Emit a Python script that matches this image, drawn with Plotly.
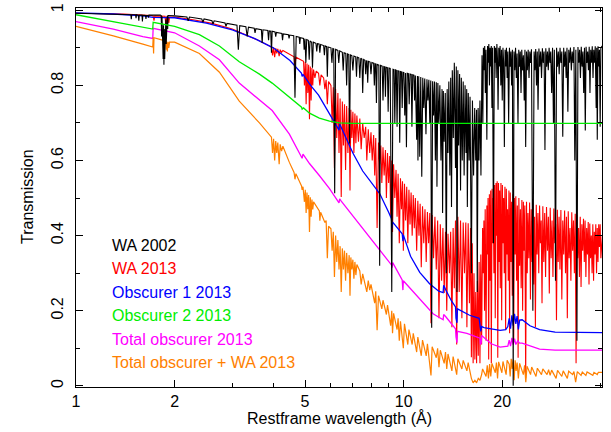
import plotly.graph_objects as go

# ---------------- data (wavelength in Angstrom, transmission) ----------------
wa2002 = [
(1.00,0.992),(1.20,0.991),(1.40,0.989),(1.47,0.988),(1.475,0.976),(1.48,0.988),
(1.52,0.988),(1.525,0.979),(1.53,0.988),(1.55,0.987),(1.555,0.972),(1.56,0.987),
(1.59,0.987),(1.595,0.970),(1.60,0.987),(1.63,0.986),(1.635,0.977),(1.64,0.986),
(1.66,0.986),(1.665,0.980),(1.67,0.987),(1.75,0.988),(1.81,0.987),
(1.82,0.986),(1.825,0.93),(1.83,0.984),(1.835,0.90),(1.84,0.975),(1.845,0.87),(1.85,0.96),
(1.855,0.855),(1.86,0.95),(1.865,0.87),(1.87,0.97),(1.875,0.89),(1.88,0.975),(1.885,0.91),
(1.89,0.98),(1.895,0.93),(1.90,0.985),(1.905,0.95),(1.91,0.986),
(2.00,0.985),(2.18,0.982),(2.20,0.972),(2.22,0.982),(2.42,0.977),(2.44,0.968),(2.46,0.977),
(2.60,0.972),(2.62,0.963),(2.64,0.972),(2.85,0.966),(2.87,0.957),(2.89,0.965),
(3.10,0.960),(3.13,0.895),(3.16,0.959),(3.30,0.956),(3.33,0.930),(3.36,0.955),
(3.50,0.952),(3.52,0.940),(3.54,0.951),(3.68,0.948),(3.70,0.913),(3.72,0.948),
(3.85,0.946),(3.87,0.920),(3.89,0.945),(3.93,0.944),(3.95,0.887),(3.97,0.944),
(4.05,0.942),(4.07,0.930),(4.09,0.941),(4.25,0.938),(4.27,0.920),(4.29,0.937),
(4.45,0.935),(4.47,0.925),(4.49,0.934),(4.62,0.932),(4.66,0.767),(4.70,0.930),
(4.80,0.928),(4.82,0.910),(4.84,0.927),(4.95,0.925),(4.97,0.895),(5.00,0.924),
(5.03,0.860),(5.06,0.922),(5.12,0.920),(5.15,0.868),(5.18,0.918),(5.24,0.915),
(5.27,0.847),(5.30,0.915),(5.40,0.912),(5.43,0.890),(5.46,0.911),(5.52,0.910),
(5.55,0.887),(5.58,0.909),(5.70,0.906),(5.73,0.880),(5.76,0.905),(5.82,0.903),
(5.85,0.823),(5.88,0.902),(6.00,0.900),(6.04,0.860),(6.08,0.898),(6.12,0.897),
(6.16,0.513),(6.20,0.896),(6.30,0.893),(6.34,0.860),(6.38,0.892),(6.50,0.888),
(6.54,0.840),(6.58,0.887),(6.66,0.885),(6.70,0.800),(6.74,0.884),(6.80,0.882),
(6.84,0.645),(6.88,0.881),(6.95,0.879),(7.00,0.840),(7.05,0.878),(7.14,0.876),
(7.18,0.823),(7.22,0.875),(7.30,0.873),(7.35,0.820),(7.40,0.872),(7.46,0.870),
(7.50,0.780),(7.55,0.869),(7.62,0.867),(7.66,0.830),(7.70,0.866),(7.73,0.865),
(7.77,0.807),(7.81,0.864),(7.90,0.862),(7.95,0.830),(8.00,0.861),(8.10,0.859),
(8.14,0.800),(8.18,0.858),(8.22,0.857),(8.26,0.753),(8.30,0.856),(8.40,0.854),
(8.45,0.320),(8.50,0.853),(8.60,0.851),(8.65,0.760),(8.70,0.850),(8.76,0.849),
(8.80,0.770),(8.84,0.848),(8.92,0.847),(8.97,0.730),(9.02,0.846),(9.10,0.845),
(9.20,0.250),(9.28,0.843),(9.35,0.842),(9.40,0.700),(9.45,0.841),(9.50,0.840),
(9.55,0.690),(9.60,0.839),(9.68,0.838),(9.73,0.647),(9.78,0.837),(9.85,0.836),
(9.90,0.740),(9.95,0.835),(10.02,0.834),(10.08,0.720),(10.14,0.833),(10.20,0.635),
(10.26,0.832),(10.34,0.831),(10.40,0.750),(10.46,0.830),(10.55,0.829),(10.60,0.690),
(10.66,0.828),(10.75,0.827),(10.80,0.760),(10.86,0.826),(10.96,0.655),(11.02,0.825),
(11.06,0.600),(11.12,0.824),(11.20,0.610),(11.28,0.822),(11.36,0.557),(11.44,0.820),
(11.52,0.740),(11.60,0.818),(11.70,0.670),(11.78,0.816),(11.86,0.760),(11.94,0.815),
(12.02,0.700),(12.10,0.813),(12.18,0.155),(12.26,0.811),(12.34,0.720),(12.42,0.810),
(12.50,0.600),(12.58,0.808),(12.64,0.530),(12.72,0.806),(12.80,0.700),(12.90,0.800),
(13.00,0.600),(13.10,0.790),(13.15,0.460),(13.22,0.785),(13.30,0.650),(13.40,0.780),
(13.50,0.300),(13.58,0.790),(13.66,0.620),(13.74,0.810),(13.84,0.560),(13.92,0.820),
(14.00,0.476),(14.08,0.840),(14.18,0.660),(14.28,0.860),(14.40,0.580),(14.48,0.850),
(14.55,0.250),(14.64,0.840),(14.72,0.640),(14.82,0.830),(14.92,0.520),(15.00,0.820),
(15.10,0.600),(15.20,0.810),(15.30,0.560),(15.40,0.800),(15.50,0.620),(15.58,0.790),
(15.65,0.476),(15.75,0.780),(15.85,0.600),(15.95,0.770),(16.10,0.300),(16.22,0.760),
(16.35,0.560),(16.48,0.740),(16.60,0.600),(16.70,0.735),(16.78,0.250),(16.88,0.740),
(16.98,0.600),(17.10,0.760),(17.22,0.560),(17.35,0.880),(17.45,0.700),(17.52,0.900),
(17.60,0.840),(17.68,0.905),(17.76,0.780),(17.84,0.895),(17.95,0.655),(18.04,0.905),
(18.12,0.860),(18.20,0.910),(18.28,0.800),(18.36,0.900),(18.44,0.850),(18.52,0.905),
(18.60,0.740),(18.68,0.900),(18.80,0.380),(18.92,0.905),(19.00,0.860),(19.08,0.900),
(19.16,0.820),(19.26,0.910),(19.34,0.870),(19.42,0.735),(19.52,0.900),(19.60,0.850),
(19.70,0.905),(19.80,0.800),(19.90,0.895),(20.00,0.760),(20.10,0.900),(20.20,0.860),
(20.30,0.636),(20.40,0.895),(20.50,0.850),(20.60,0.900),(20.70,0.820),(20.80,0.890),
(20.92,0.700),(21.04,0.900),(21.14,0.850),(21.26,0.890),(21.36,0.800),(21.48,0.895),
(21.60,0.000),(21.72,0.890),(21.84,0.840),(21.96,0.900),(22.08,0.820),(22.20,0.885),
(22.34,0.700),(22.46,0.895),(22.58,0.850),(22.70,0.890),(22.82,0.780),(22.94,0.895),
(23.06,0.840),(23.20,0.880),(23.34,0.760),(23.46,0.895),(23.58,0.636),(23.72,0.890),
(23.86,0.840),(24.00,0.895),(24.14,0.820),(24.28,0.890),(24.42,0.860),(24.56,0.896),
(24.80,0.200),(25.02,0.890),(25.16,0.840),(25.30,0.897),(25.44,0.800),(25.58,0.890),
(25.72,0.735),(25.88,0.898),(26.04,0.850),(26.20,0.890),(26.36,0.820),(26.52,0.899),
(26.68,0.860),(26.84,0.890),(27.00,0.628),(27.16,0.899),(27.32,0.850),(27.48,0.890),
(27.64,0.840),(27.80,0.900),(27.96,0.860),(28.12,0.890),(28.30,0.780),(28.48,0.900),
(28.66,0.700),(28.84,0.895),(29.08,0.280),(29.30,0.900),(29.48,0.850),(29.66,0.890),
(29.84,0.830),(30.02,0.900),(30.20,0.860),(30.40,0.890),(30.60,0.663),(30.80,0.900),
(30.98,0.850),(31.16,0.890),(31.34,0.820),(31.52,0.900),(31.72,0.730),(31.92,0.895),
(32.10,0.860),(32.30,0.901),(32.50,0.840),(32.70,0.890),(32.90,0.860),(33.10,0.902),
(33.30,0.600),(33.55,0.895),(33.80,0.120),(34.05,0.902),(34.25,0.860),(34.45,0.895),
(34.65,0.820),(34.85,0.903),(35.05,0.850),(35.25,0.890),(35.45,0.780),(35.65,0.900),
(35.85,0.680),(36.05,0.903),(36.25,0.860),(36.45,0.890),(36.65,0.840),(36.85,0.903),
(37.05,0.780),(37.25,0.895),(37.45,0.860),(37.65,0.904),(37.85,0.820),(38.05,0.895),
(38.25,0.860),(38.45,0.904),(38.70,0.740),(38.85,0.900),(39.00,0.655),(39.20,0.904),
(39.40,0.850),(39.60,0.895),(39.80,0.690),(40.00,0.900),(40.40,0.905)]

wa2013 = [
(1.00,0.992),(1.40,0.990),(1.70,0.986),(1.72,0.985),(1.73,0.972),(1.74,0.985),
(1.87,0.984),(1.88,0.960),(1.89,0.983),(1.90,0.962),(1.91,0.982),(1.92,0.966),(1.93,0.982),
(2.00,0.982),(2.30,0.974),(2.60,0.965),(3.00,0.950),(3.30,0.935),(3.60,0.920),
(3.95,0.902),(3.98,0.880),(4.01,0.901),(4.04,0.875),(4.07,0.899),(4.10,0.885),
(4.13,0.897),(4.17,0.878),(4.20,0.895),(4.24,0.888),(4.28,0.893),(4.50,0.882),
(4.63,0.876),(4.66,0.850),(4.69,0.875),(4.85,0.868),
(4.95,0.864),(4.98,0.800),(5.01,0.862),(5.04,0.750),(5.07,0.858),(5.10,0.780),
(5.13,0.855),(5.16,0.710),(5.19,0.850),(5.22,0.760),(5.25,0.846),(5.28,0.800),
(5.31,0.842),(5.36,0.820),(5.41,0.838),(5.50,0.832),(5.55,0.800),(5.60,0.828),
(5.70,0.820),(5.75,0.790),(5.80,0.815),(5.85,0.750),(5.90,0.810),(6.00,0.800),
(6.05,0.700),(6.10,0.795),(6.15,0.580),(6.20,0.790),(6.25,0.660),(6.30,0.780),
(6.35,0.620),(6.40,0.765),(6.45,0.503),(6.50,0.757),(6.55,0.640),(6.60,0.750),
(6.65,0.575),(6.70,0.745),(6.76,0.620),(6.82,0.740),(6.86,0.520),(6.90,0.735),
(6.95,0.660),(7.00,0.730),(7.05,0.620),(7.10,0.725),(7.15,0.646),(7.20,0.720),
(7.28,0.650),(7.35,0.712),(7.42,0.630),(7.50,0.700),(7.58,0.660),(7.66,0.690),
(7.72,0.600),(7.80,0.683),(7.88,0.620),(7.95,0.675),(8.02,0.600),(8.10,0.668),
(8.16,0.560),(8.22,0.660),(8.30,0.420),(8.38,0.648),(8.45,0.590),(8.52,0.640),
(8.58,0.540),(8.65,0.635),(8.72,0.560),(8.80,0.628),(8.86,0.500),(8.93,0.620),
(9.00,0.540),(9.07,0.612),(9.13,0.450),(9.20,0.600),(9.25,0.410),(9.32,0.590),
(9.40,0.500),(9.48,0.575),(9.55,0.450),(9.62,0.565),(9.70,0.380),(9.78,0.553),
(9.85,0.470),(9.92,0.545),(9.98,0.360),(10.06,0.538),(10.14,0.440),(10.22,0.530),
(10.30,0.380),(10.38,0.522),(10.46,0.430),(10.54,0.515),(10.62,0.400),(10.70,0.508),
(10.78,0.420),(10.86,0.500),(10.96,0.360),(11.05,0.493),(11.14,0.400),(11.23,0.485),
(11.32,0.316),(11.42,0.478),(11.52,0.380),(11.62,0.470),(11.72,0.330),(11.82,0.463),
(11.92,0.380),(12.02,0.460),(12.12,0.167),(12.22,0.455),(12.34,0.340),(12.46,0.450),
(12.58,0.310),(12.70,0.440),(12.82,0.180),(12.94,0.430),(13.06,0.280),(13.18,0.420),
(13.30,0.247),(13.42,0.410),(13.54,0.200),(13.66,0.405),(13.80,0.300),(13.92,0.410),
(14.04,0.156),(14.16,0.420),(14.28,0.260),(14.40,0.440),(14.52,0.110),(14.64,0.450),
(14.78,0.250),(14.92,0.440),(15.06,0.180),(15.20,0.435),(15.34,0.300),(15.48,0.435),
(15.60,0.156),(15.74,0.433),(15.88,0.220),(16.00,0.420),(16.10,0.076),(16.20,0.380),
(16.30,0.060),(16.40,0.300),(16.50,0.070),(16.60,0.250),(16.70,0.060),(16.80,0.280),
(16.90,0.080),(17.00,0.330),(17.10,0.060),(17.20,0.350),(17.30,0.110),(17.42,0.420),
(17.50,0.300),(17.58,0.440),(17.66,0.200),(17.74,0.470),(17.85,0.120),(17.95,0.480),
(18.02,0.350),(18.10,0.500),(18.18,0.070),(18.27,0.510),(18.36,0.280),(18.44,0.520),
(18.52,0.060),(18.62,0.525),(18.70,0.380),(18.78,0.500),(18.86,0.300),(18.95,0.535),
(19.04,0.180),(19.14,0.540),(19.22,0.400),(19.30,0.545),(19.38,0.075),(19.48,0.540),
(19.56,0.330),(19.64,0.520),(19.72,0.260),(19.82,0.540),(19.92,0.175),(20.02,0.535),
(20.10,0.380),(20.20,0.500),(20.28,0.300),(20.38,0.530),(20.48,0.150),(20.58,0.525),
(20.68,0.350),(20.76,0.470),(20.86,0.280),(20.96,0.520),(21.06,0.140),(21.16,0.515),
(21.26,0.330),(21.36,0.490),(21.46,0.240),(21.56,0.510),(21.68,0.120),(21.78,0.500),
(21.90,0.350),(22.00,0.505),(22.12,0.280),(22.24,0.480),(22.36,0.075),(22.48,0.500),
(22.60,0.320),(22.72,0.470),(22.84,0.260),(22.96,0.495),(23.08,0.200),(23.20,0.490),
(23.32,0.360),(23.44,0.480),(23.58,0.020),(23.72,0.490),(23.84,0.300),(23.96,0.460),
(24.10,0.340),(24.24,0.488),(24.38,0.230),(24.52,0.470),(24.66,0.330),(24.80,0.486),
(24.95,0.270),(25.10,0.450),(25.25,0.156),(25.40,0.482),(25.55,0.350),(25.70,0.460),
(25.85,0.300),(26.00,0.480),(26.15,0.380),(26.30,0.440),(26.45,0.220),(26.60,0.478),
(26.78,0.330),(26.95,0.460),(27.12,0.290),(27.30,0.476),(27.48,0.360),(27.66,0.450),
(27.84,0.246),(28.02,0.474),(28.20,0.340),(28.38,0.440),(28.56,0.290),(28.74,0.472),
(28.92,0.380),(29.10,0.430),(29.28,0.175),(29.46,0.469),(29.64,0.330),(29.82,0.450),
(30.00,0.310),(30.20,0.468),(30.40,0.230),(30.60,0.440),(30.80,0.350),(31.00,0.467),
(31.20,0.300),(31.40,0.450),(31.60,0.180),(31.80,0.465),(32.00,0.340),(32.20,0.420),
(32.40,0.280),(32.60,0.462),(32.80,0.360),(33.00,0.440),(33.20,0.300),(33.40,0.458),
(33.60,0.060),(33.80,0.455),(34.00,0.340),(34.20,0.420),(34.40,0.290),(34.60,0.450),
(34.80,0.263),(35.00,0.430),(35.20,0.360),(35.40,0.445),(35.60,0.330),(35.80,0.440),
(36.00,0.290),(36.20,0.420),(36.40,0.350),(36.60,0.436),(36.80,0.270),(37.00,0.432),
(37.20,0.340),(37.40,0.400),(37.60,0.300),(37.80,0.430),(38.00,0.280),(38.20,0.410),
(38.40,0.350),(38.60,0.430),(38.80,0.300),(39.00,0.420),(39.20,0.330),(39.40,0.430),
(39.60,0.370),(39.80,0.430),(40.00,0.340),(40.40,0.400)]

obscurer1 = [
(1.00,0.993),(1.30,0.990),(1.60,0.985),(1.70,0.983),(1.72,0.981),(2.00,0.980),
(2.50,0.966),(3.00,0.948),(3.50,0.925),(4.00,0.900),(4.50,0.866),(4.88,0.832),
(4.90,0.824),(4.93,0.829),(5.20,0.800),(5.50,0.774),(6.00,0.720),(6.15,0.703),
(6.35,0.681),(6.38,0.697),(6.45,0.688),(7.00,0.620),(7.50,0.572),(8.00,0.538),
(8.45,0.512),(9.00,0.462),(9.18,0.445),(9.22,0.420),(9.26,0.436),(9.90,0.405),
(9.95,0.385),(9.98,0.402),(10.50,0.345),(11.20,0.302),(12.00,0.272),(12.80,0.252),
(13.20,0.248),(13.25,0.268),(13.45,0.255),(14.00,0.226),(14.40,0.210),(14.45,0.180),
(14.55,0.168),(14.60,0.205),(15.00,0.200),(15.90,0.188),(17.00,0.180),(17.10,0.162),
(17.20,0.145),(17.30,0.158),(17.60,0.155),(18.50,0.152),(19.70,0.148),(20.50,0.150),
(20.80,0.158),(21.00,0.180),(21.20,0.152),(21.40,0.188),(21.60,0.160),(21.80,0.192),
(22.00,0.165),(22.20,0.186),(22.40,0.150),(22.60,0.175),(23.00,0.176),(24.30,0.160),
(26.00,0.150),(29.00,0.143),(40.40,0.142)]

obscurer2 = [
(1.00,0.988),(1.30,0.970),(1.60,0.955),(1.715,0.950),(1.72,0.968),(2.00,0.957),
(2.38,0.935),(2.74,0.905),(3.15,0.863),(3.63,0.830),(3.97,0.806),(4.48,0.770),
(4.88,0.742),(4.90,0.737),(4.95,0.740),(5.16,0.726),(5.53,0.713),(5.94,0.705),
(6.37,0.700),(7.00,0.699),(40.40,0.699)]

obscurer_total = [
(1.00,0.970),(1.30,0.950),(1.60,0.930),(1.715,0.925),(1.72,0.952),(2.00,0.940),
(2.38,0.905),(2.74,0.868),(3.15,0.806),(3.63,0.760),(3.97,0.733),(4.48,0.670),
(4.88,0.612),(4.90,0.606),(4.93,0.617),(5.16,0.592),(5.53,0.560),(5.94,0.525),
(6.35,0.487),(6.38,0.498),(6.45,0.492),(7.34,0.430),(8.45,0.360),(9.18,0.322),
(9.22,0.315),(9.26,0.328),(9.90,0.282),(9.95,0.255),(9.98,0.280),(11.20,0.232),
(12.30,0.192),(13.20,0.176),(13.25,0.190),(13.45,0.184),(14.40,0.152),(14.45,0.130),
(14.55,0.115),(14.60,0.145),(15.60,0.140),(17.10,0.127),(17.15,0.110),(17.25,0.114),
(17.30,0.134),(18.50,0.112),(19.70,0.103),(20.80,0.106),(21.00,0.122),(21.20,0.106),
(21.40,0.128),(21.60,0.110),(21.80,0.126),(22.00,0.110),(22.30,0.120),(22.60,0.114),
(23.00,0.114),(26.00,0.098),(29.00,0.095),(40.40,0.095)]

obscurer_wa = [
(1.00,0.957),(1.30,0.932),(1.60,0.910),(1.715,0.902),(1.72,0.928),(1.725,0.885),
(1.73,0.927),(1.88,0.918),(1.885,0.895),(1.89,0.917),(1.90,0.890),(1.91,0.916),
(1.92,0.900),(1.93,0.915),(2.00,0.915),(2.38,0.885),(2.74,0.835),(3.15,0.758),
(3.63,0.700),(3.95,0.662),(3.98,0.620),(4.01,0.658),(4.04,0.600),(4.07,0.652),
(4.10,0.620),(4.13,0.648),(4.17,0.590),(4.20,0.643),(4.24,0.625),(4.28,0.638),
(4.48,0.595),(4.63,0.568),(4.66,0.550),(4.69,0.565),(4.88,0.532),(4.90,0.522),
(4.93,0.530),(4.98,0.490),(5.01,0.522),(5.04,0.460),(5.07,0.515),(5.10,0.470),
(5.13,0.508),(5.16,0.410),(5.19,0.502),(5.22,0.450),(5.25,0.496),(5.28,0.470),
(5.31,0.490),(5.53,0.466),(5.55,0.440),(5.58,0.462),(5.75,0.435),(5.80,0.440),
(5.85,0.340),(5.90,0.425),(6.00,0.418),(6.05,0.360),(6.10,0.410),(6.15,0.290),
(6.20,0.400),(6.25,0.330),(6.30,0.388),(6.35,0.310),(6.40,0.372),(6.45,0.250),
(6.50,0.366),(6.55,0.310),(6.60,0.360),(6.65,0.280),(6.70,0.354),(6.76,0.300),
(6.82,0.348),(6.86,0.240),(6.90,0.342),(6.95,0.310),(7.00,0.336),(7.05,0.285),
(7.10,0.330),(7.15,0.295),(7.20,0.323),(7.35,0.306),(7.42,0.270),(7.50,0.298),
(7.72,0.250),(7.80,0.280),(7.88,0.255),(7.95,0.270),(8.16,0.220),(8.22,0.252),
(8.30,0.148),(8.38,0.240),(8.58,0.205),(8.65,0.228),(8.86,0.190),(8.93,0.215),
(9.13,0.160),(9.20,0.200),(9.25,0.140),(9.32,0.193),(9.55,0.150),(9.62,0.180),
(9.70,0.120),(9.78,0.172),(9.98,0.100),(10.06,0.165),(10.30,0.110),(10.38,0.150),
(10.62,0.110),(10.70,0.140),(10.96,0.090),(11.05,0.130),(11.32,0.080),(11.42,0.122),
(11.72,0.080),(11.82,0.112),(12.12,0.028),(12.22,0.104),(12.58,0.075),(12.70,0.100),
(12.82,0.050),(12.94,0.095),(13.30,0.060),(13.42,0.090),(13.54,0.045),(13.66,0.085),
(14.04,0.040),(14.16,0.078),(14.52,0.030),(14.64,0.072),(15.06,0.045),(15.20,0.068),
(15.60,0.040),(15.74,0.062),(16.10,0.020),(16.30,0.008),(16.50,0.015),(16.70,0.008),
(16.90,0.020),(17.10,0.015),(17.30,0.030),(17.42,0.045),(17.85,0.025),(18.00,0.055),
(18.15,0.020),(18.30,0.058),(18.45,0.025),(18.60,0.060),(19.05,0.035),(19.20,0.062),
(19.35,0.020),(19.50,0.064),(19.95,0.035),(20.10,0.065),(20.55,0.030),(20.70,0.068),
(21.00,0.058),(21.15,0.025),(21.30,0.072),(21.45,0.045),(21.60,0.070),(21.75,0.015),
(21.90,0.068),(22.05,0.040),(22.20,0.062),(22.40,0.020),(22.60,0.060),(23.20,0.030),
(23.40,0.055),(23.60,0.010),(23.80,0.052),(24.40,0.030),(24.60,0.050),(25.35,0.025),
(25.60,0.047),(26.35,0.030),(26.60,0.045),(27.40,0.030),(27.70,0.043),(28.00,0.028),
(28.30,0.042),(29.20,0.020),(29.50,0.041),(30.40,0.025),(30.70,0.040),(31.60,0.020),
(31.90,0.039),(32.80,0.030),(33.10,0.038),(33.50,0.010),(33.90,0.038),(34.80,0.028),
(35.10,0.037),(36.00,0.028),(36.30,0.037),(37.80,0.028),(38.10,0.036),(39.00,0.030),
(39.30,0.036),(40.40,0.036)]

legend_labels = ["WA 2002", "WA 2013", "Obscurer 1 2013", "Obscurer 2 2013",
                 "Total obscurer 2013", "Total obscurer + WA 2013"]
x_tick_vals = [1, 2, 5, 10, 20]
x_minor_vals = [3, 4, 6, 7, 8, 9, 30, 40]
y_tick_vals = [0, 0.2, 0.4, 0.6, 0.8, 1]
y_tick_text = ["0", "0.2", "0.4", "0.6", "0.8", "1"]
y_minor_vals = [0.1, 0.3, 0.5, 0.7, 0.9]

# ---------------- styling ----------------
colors = {"WA 2002": "#000000", "WA 2013": "#ff0000", "Obscurer 1 2013": "#0000ff",
          "Obscurer 2 2013": "#00ee00", "Total obscurer 2013": "#ff00ff",
          "Total obscurer + WA 2013": "#ff8000"}
widths = {"WA 2002": 1.1, "WA 2013": 1.1, "Obscurer 1 2013": 1.3,
          "Obscurer 2 2013": 1.3, "Total obscurer 2013": 1.3,
          "Total obscurer + WA 2013": 1.2}
series = {"WA 2002": wa2002, "WA 2013": wa2013, "Obscurer 1 2013": obscurer1,
          "Obscurer 2 2013": obscurer2, "Total obscurer 2013": obscurer_total,
          "Total obscurer + WA 2013": obscurer_wa}
draw_order = ["WA 2013", "Obscurer 1 2013", "Total obscurer 2013",
              "Total obscurer + WA 2013", "WA 2002", "Obscurer 2 2013"]

FONT = "Liberation Sans, Arial, Helvetica, sans-serif"
fig = go.Figure()
for name in draw_order:
    pts = series[name]
    fig.add_trace(go.Scatter(x=[p[0] for p in pts], y=[p[1] for p in pts], mode="lines",
                             line=dict(color=colors[name], width=widths[name]), name=name,
                             showlegend=False, hoverinfo="skip"))

L, R, T, B = 76, 602, 8, 387
W, H = 611, 432
def px(xp): return (xp - L) / (R - L)
def py(yp): return (B - yp) / (B - T)

legend_y = [245, 268.5, 292, 315.5, 339, 362.5]
for lab, yy in zip(legend_labels, legend_y):
    fig.add_annotation(text=lab, xref="paper", yref="paper", x=px(110), y=py(yy),
                       xanchor="left", yanchor="middle", showarrow=False,
                       font=dict(family=FONT, size=16, color=colors[lab]))

fig.add_annotation(text="Restframe wavelength (Å)", xref="paper", yref="paper",
                   x=px(339), y=py(418), xanchor="center", yanchor="middle",
                   showarrow=False, font=dict(family=FONT, size=16, color="black"))
fig.add_annotation(text="Transmission", xref="paper", yref="paper", textangle=-90,
                   x=px(27), y=py(197), xanchor="center", yanchor="middle",
                   showarrow=False, font=dict(family=FONT, size=16, color="black"))

fig.update_layout(width=W, height=H, margin=dict(l=L, r=W - R, t=T, b=H - B, autoexpand=False),
                  paper_bgcolor="white", plot_bgcolor="white",
                  font=dict(family=FONT, size=16, color="black"), showlegend=False)
fig.update_xaxes(type="log", range=[0, 1.6055], tickvals=x_tick_vals, automargin=False,
                 ticktext=[str(v) for v in x_tick_vals], ticks="inside", ticklen=7,
                 tickwidth=1, tickcolor="black", mirror="allticks", showline=True,
                 linecolor="black", linewidth=1, showgrid=False, zeroline=False,
                 tickfont=dict(family=FONT, size=16),
                 minor=dict(tickvals=x_minor_vals, ticks="inside", ticklen=4,
                            tickcolor="black", tickwidth=1, showgrid=False))
fig.update_yaxes(range=[-0.003, 1.006], tickvals=y_tick_vals, ticktext=y_tick_text,
                 tickangle=-90, ticks="inside", ticklen=7, tickwidth=1, tickcolor="black",
                 mirror="allticks", showline=True, linecolor="black", linewidth=1,
                 showgrid=False, zeroline=False, tickfont=dict(family=FONT, size=16),
                 ticklabelstandoff=6, automargin=False,
                 minor=dict(tickvals=y_minor_vals, ticks="inside", ticklen=4,
                            tickcolor="black", tickwidth=1, showgrid=False))

fig.write_html("out.html", config={"displayModeBar": False, "staticPlot": True},
               post_script="document.body.style.margin='0';document.body.style.overflow='hidden';")
